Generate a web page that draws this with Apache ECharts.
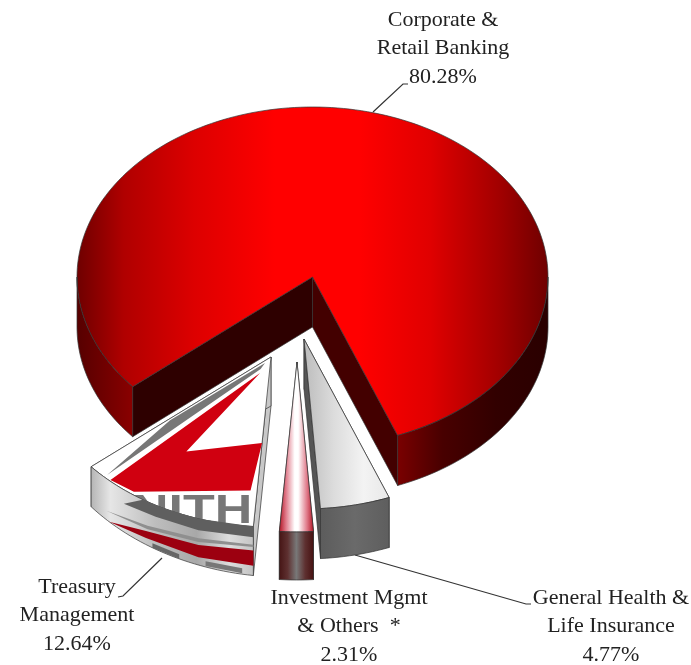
<!DOCTYPE html>
<html>
<head>
<meta charset="utf-8">
<title>Pie</title>
<script src="https://cdn.jsdelivr.net/npm/echarts@6/dist/echarts.min.js"></script>
<style>
  html, body { margin: 0; padding: 0; background: #fff; }
  #chart { width: 691px; height: 665px; }
</style>
</head>
<body>
<div id="chart"></div>
<script>
// data, clockwise from the top of the big slice
const categories = ["Corporate & Retail Banking", "General Health & Life Insurance", "Investment Mgmt & Others", "Treasury Management"];
const shares = [80.28, 4.77, 2.31, 12.64];
const labelLines = [
  ["Corporate &", "Retail Banking"],
  ["General Health &", "Life Insurance"],
  ["Investment Mgmt", "& Others  *"],
  ["Treasury", "Management"],
];

// pie geometry
const startAngle = 229.8;
const rx = 235.5;
const ry = 170;
const origins = [[312.5, 277], [304, 339], [297, 362], [271, 357]];
const depths = [[50, 50], [50, 50], [48, 48], [49, 40]];
const labelPos = [[443, 20], [611, 598], [349, 598], [77, 587]];
const labelStep = 28.5;
const leaders = [
  [[373, 112], [403, 84], [408, 84]],
  [[355, 555], [526, 604], [531, 604]],
  [],
  [[162, 558], [123, 596], [118, 597]],
];

const lg = (stops) =>
  new echarts.graphic.LinearGradient(0, 0, 1, 0, stops.map((s) => ({ offset: s[0], color: s[1] })));

const looks = [
  {
    top: [[0, "#6e0000"], [0.1, "#b00000"], [0.25, "#dd0000"], [0.42, "#ff0000"], [0.6, "#ff0000"], [0.75, "#e00000"], [0.9, "#a00000"], [1, "#6e0000"]],
    sides: [
      [[0, "#560000"], [1, "#8a0000"]],
      [[0, "#7a0000"], [0.3, "#480000"], [0.65, "#320000"], [1, "#2a0000"]],
    ],
    walls: ["#2e0000", "#430000"],
  },
  {
    top: [[0, "#bcbcbc"], [0.35, "#dcdcdc"], [0.7, "#f3f3f3"], [1, "#e8e8e8"]],
    sides: [[[0, "#5c5c5c"], [0.5, "#6a6a6a"], [1, "#5e5e5e"]]],
    walls: ["#666666", "#555555"],
  },
  {
    top: [[0, "#b01020"], [0.2, "#e07a8a"], [0.45, "#ffffff"], [0.55, "#ffffff"], [0.8, "#e07a8a"], [1, "#b01020"]],
    sides: [[[0, "#451414"], [0.25, "#5e3030"], [0.5, "#787878"], [0.75, "#5e3030"], [1, "#451010"]]],
    walls: ["#666666", "#666666"],
  },
  {
    top: [[0, "#ffffff"], [1, "#ffffff"]],
    sides: [[[0, "#b4b4b4"], [0.12, "#e6e6e6"], [0.4, "#bdbdbd"], [0.65, "#a8a8a8"], [0.85, "#dddddd"], [1, "#c4c4c4"]]],
    walls: ["#c8c8c8", "#c8c8c8"],
  },
];

// the logo printed on the treasury slice: [toward end edge, toward start edge] on the top face
const logoFace = [
  { fill: "#d00010", pts: [[0.055, 0.059], [0.877, 0.158], [0.731, 0.322], [0.039, 0.762], [0, 0.508], [0.444, 0.27]] },
  { fill: "#777777", pts: [[0.032, 0.014], [0.56, 0.01], [0.9, 0.114], [0.46, 0.073], [0.054, 0.036]] },
];
// and round its rim: [along the arc, down the wall]
const logoSide = [
  { fill: "#5f5f5f", pts: [[0, 0], [0.3, 0], [0.5, 0], [0.63, 0], [0.755, 0.33], [0.55, 0.26], [0.3, 0.25], [0, 0.22]] },
  { fill: "#8f8f8f", pts: [[0.88, 0.78], [0.6, 0.55], [0.3, 0.42], [0, 0.37], [0, 0.42], [0.3, 0.5], [0.6, 0.63]] },
  { fill: "#9c0010", pts: [[0.86, 1], [0.61, 0.69], [0.3, 0.57], [0, 0.49], [0, 0.8], [0.3, 0.83], [0.61, 0.85]] },
  { fill: "#666666", pts: [[0.57, 0.9], [0.41, 0.9], [0.41, 1], [0.57, 1]] },
  { fill: "#777777", pts: [[0.26, 0.88], [0.06, 0.88], [0.06, 0.98], [0.26, 0.98]] },
];

const rad = (d) => (d * Math.PI) / 180;
const cumulative = (i) => shares.slice(0, i).reduce((a, b) => a + b, 0);

function renderSlice(params, api) {
  const i = api.value(1);
  const a0 = startAngle + (cumulative(i) / 100) * 360;
  const a1 = a0 + (api.value(0) / 100) * 360;
  const [cx, cy] = origins[i];
  const look = looks[i];
  const [d0, d1] = depths[i];
  const depthAt = (a) => d0 + ((d1 - d0) * (a - a0)) / (a1 - a0);
  const rim = (a, extra) => [cx + rx * Math.sin(rad(a)), cy - ry * Math.cos(rad(a)) + (extra || 0)];
  const sweep = (from, to, fn) => {
    const n = Math.max(2, Math.ceil(Math.abs(to - from) / 1.5));
    const out = [];
    for (let k = 0; k <= n; k++) out.push(fn(from + ((to - from) * k) / n));
    return out;
  };
  const poly = (points, fill, line) => ({
    type: "polygon",
    shape: { points },
    style: { fill, stroke: line === false ? null : "#333", lineWidth: 0.7 },
  });
  const children = [];

  // cut walls go first, the top face hides whatever is behind it
  const apexDrop = Math.max(d0, d1);
  [a0, a1].forEach((a, w) => {
    children.push(poly([[cx, cy], rim(a), rim(a, depthAt(a)), [cx, cy + apexDrop]], look.walls[w]));
  });

  // top face
  const face = [[cx, cy]].concat(sweep(a0, a1, (a) => rim(a)));
  children.push(poly(face, lg(look.top)));

  if (i === 3) {
    const e = rim(a1);
    const s = rim(a0);
    const onFace = (p) => [
      cx + p[0] * (e[0] - cx) + p[1] * (s[0] - cx),
      cy + p[0] * (e[1] - cy) + p[1] * (s[1] - cy),
    ];
    logoFace.forEach((l) => children.push(poly(l.pts.map(onFace), l.fill, false)));
    children.push({
      type: "text",
      x: s[0] - 1,
      y: s[1] + 5,
      scaleX: 1.3,
      style: {
        text: "NITH",
        fill: "#777777",
        font: "bold 40px 'Liberation Sans'",
        textAlign: "right",
        textVerticalAlign: "bottom",
      },
    });
  }

  // outer wall, only the half that faces the viewer
  let sideNo = 0;
  [0, 360].forEach((k) => {
    const from = Math.max(a0, 90 + k);
    const to = Math.min(a1, 270 + k);
    if (to <= from) return;
    const upper = sweep(from, to, (a) => rim(a));
    const lower = sweep(to, from, (a) => rim(a, depthAt(a)));
    const stops = look.sides[Math.min(sideNo, look.sides.length - 1)];
    children.push(poly(upper.concat(lower), lg(stops)));
    sideNo++;
  });

  if (i === 3) {
    const onRim = (p) => {
      const a = a0 + p[0] * (a1 - a0);
      return rim(a, p[1] * depthAt(a));
    };
    logoSide.forEach((l) => children.push(poly(l.pts.map(onRim), l.fill, false)));
  }

  return { type: "group", children };
}

const labelGraphics = [];
categories.forEach((name, i) => {
  const lines = labelLines[i].concat([shares[i].toFixed(2) + "%"]);
  lines.forEach((line, n) => {
    labelGraphics.push({
      type: "text",
      x: labelPos[i][0],
      y: labelPos[i][1] + n * labelStep,
      silent: true,
      style: {
        text: line,
        fill: "#222",
        font: "22px 'Liberation Serif'",
        textAlign: "center",
        textVerticalAlign: "middle",
      },
    });
  });
  if (leaders[i].length) {
    labelGraphics.push({
      type: "polyline",
      silent: true,
      shape: { points: leaders[i] },
      style: { stroke: "#333", lineWidth: 1.2, fill: null },
    });
  }
});

const chart = echarts.init(document.getElementById("chart"), null, { renderer: "canvas" });
chart.setOption({
  backgroundColor: "#fff",
  animation: false,
  tooltip: { show: false },
  graphic: labelGraphics,
  series: [
    {
      type: "custom",
      coordinateSystem: "none",
      silent: true,
      renderItem: renderSlice,
      data: categories.map((name, i) => ({ name, value: [shares[i], i] })),
    },
  ],
});
</script>
</body>
</html>
